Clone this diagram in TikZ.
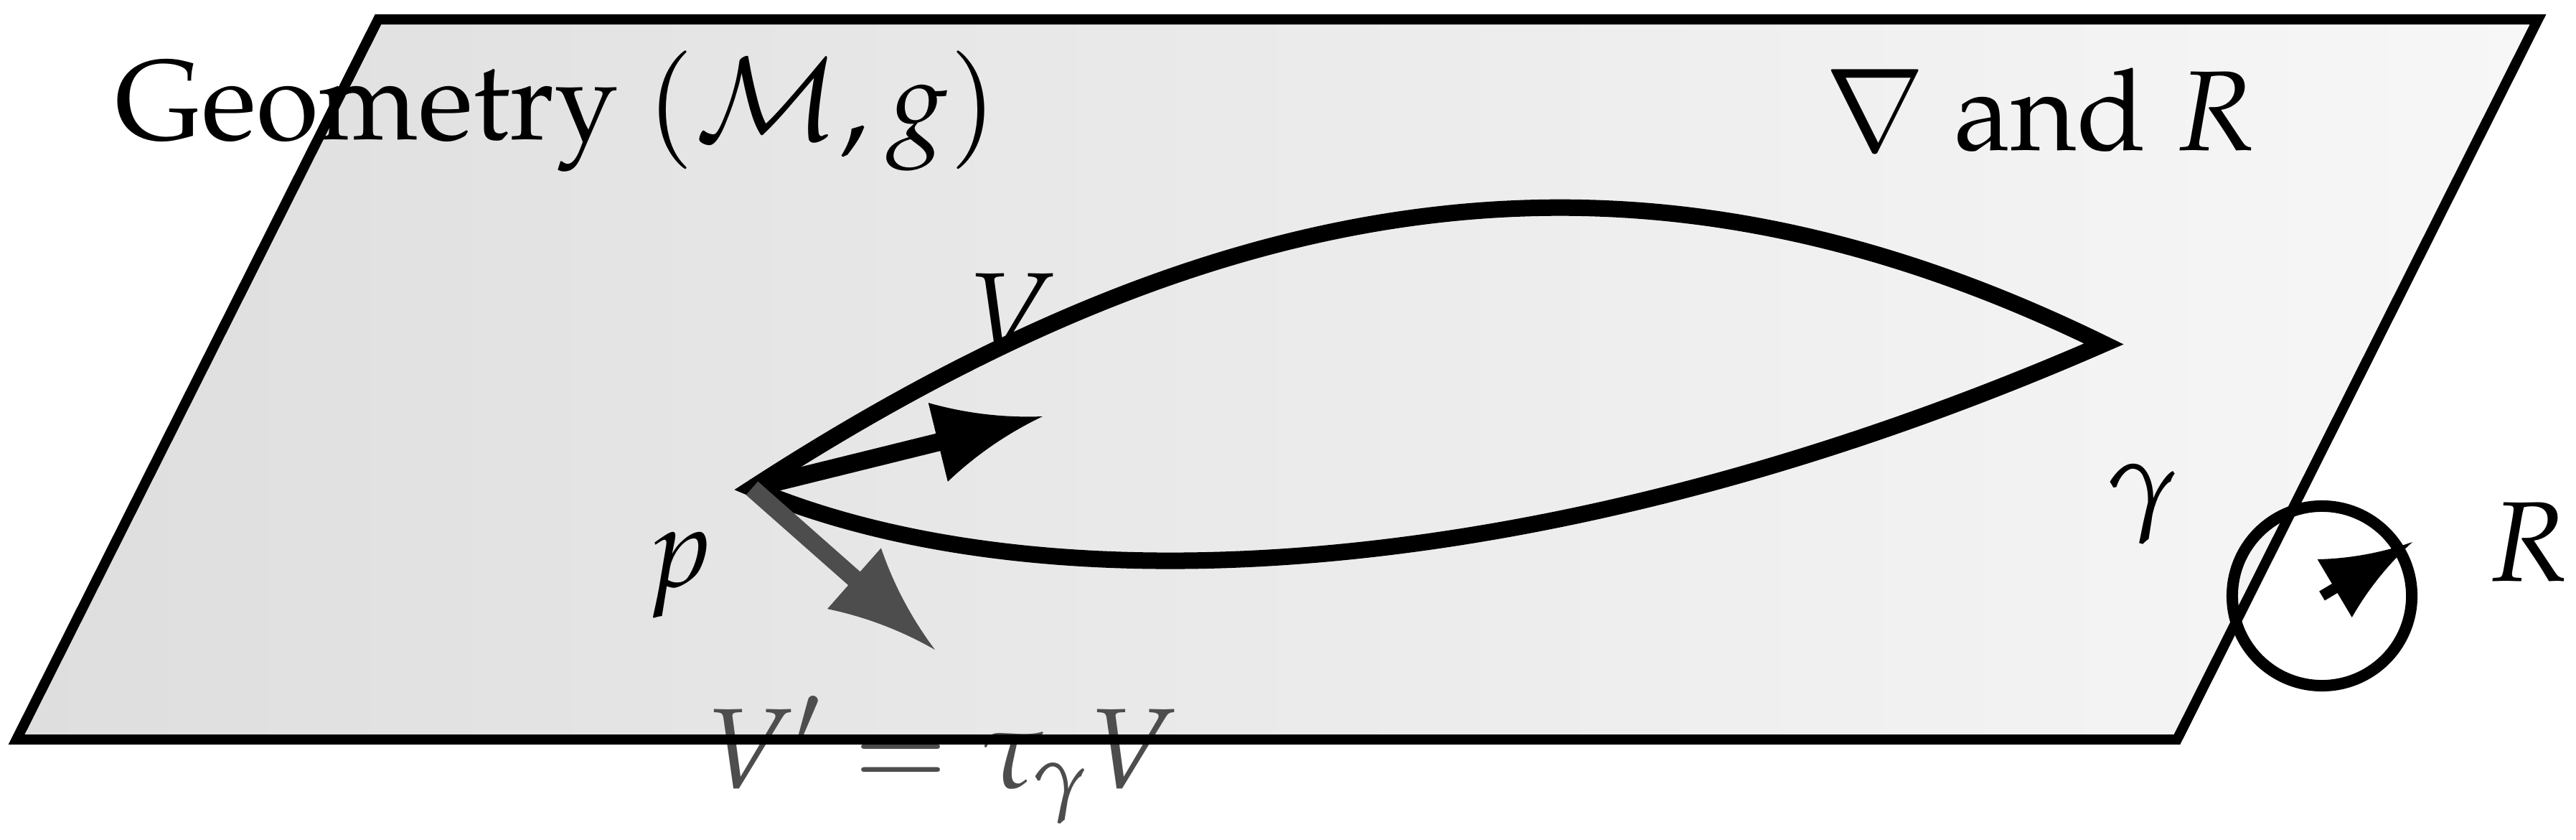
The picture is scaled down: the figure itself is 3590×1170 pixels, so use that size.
\documentclass[tikz,border=0pt]{standalone}
\usepackage[T1]{fontenc}
\usepackage{mathpazo}
\usetikzlibrary{arrows.meta}

\pgfdeclarearrow{
  name = Curvy,
  parameters = {\the\pgfarrowlength,\the\pgfarrowwidth},
  setup code = {
    \pgfarrowssettipend{0pt}
    \pgfarrowssetbackend{-\pgfarrowlength}
    \pgfarrowssetlineend{-0.6\pgfarrowlength}
    \pgfarrowsupperhullpoint{0pt}{0pt}
    \pgfarrowsupperhullpoint{-\pgfarrowlength}{0.5\pgfarrowwidth}
    \pgfarrowssavethe\pgfarrowlength
    \pgfarrowssavethe\pgfarrowwidth
  },
  drawing code = {
    \pgfpathmoveto{\pgfpointorigin}
    \pgfpathcurveto{\pgfpoint{-0.33\pgfarrowlength}{0.09\pgfarrowwidth}}{\pgfpoint{-0.67\pgfarrowlength}{0.25\pgfarrowwidth}}{\pgfpoint{-\pgfarrowlength}{0.5\pgfarrowwidth}}
    \pgfpathlineto{\pgfpoint{-\pgfarrowlength}{-0.5\pgfarrowwidth}}
    \pgfpathcurveto{\pgfpoint{-0.67\pgfarrowlength}{-0.25\pgfarrowwidth}}{\pgfpoint{-0.33\pgfarrowlength}{-0.09\pgfarrowwidth}}{\pgfpointorigin}
    \pgfpathclose
    \pgfusepathqfill
  },
  defaults = {length=10pt, width=8pt}
}

\definecolor{vgray}{HTML}{4D4D4D}
\definecolor{planeL}{HTML}{DEDEDE}
\definecolor{planeR}{HTML}{F7F7F7}

\tikzset{
  lab/.style={inner sep=0pt, font=\fontsize{45}{54}\selectfont},
  planeedge/.style={draw=black, line width=0.14cm, line join=miter},
  lens/.style={draw=black, line width=0.23cm, line join=miter, miter limit=10},
  vec/.style={line width=0.25cm, line cap=butt, -{Curvy[length=1.5cm,width=1.13cm]}},
  ring/.style={circle, draw=black, line width=0.16cm, minimum size=2.5cm, inner sep=0pt}
}

\begin{document}
\begin{tikzpicture}[x=0.01cm, y=-0.01cm]
\useasboundingbox (0,0) rectangle (3590,1170);

% plane
\coordinate (A) at (23,1030);
\coordinate (B) at (3034,1030);
\coordinate (C) at (3537,27);
\coordinate (D) at (527,27);
\shade[left color=planeL, right color=planeR] (A) -- (B) -- (C) -- (D) -- cycle;

% labels
\node[lab, anchor=base west] (geo) at (160,195) {Geometry $(\mathcal{M},g)$};
\node[lab, anchor=base west] (nab) at (2542,210) {$\nabla$ and $R$};
\node[lab, anchor=base] (vl) at (1410,490) {$V$};
\node[lab, anchor=base] (pl) at (947,817) {$p$};
\node[lab, anchor=base west, text=vgray] (vpl) at (982,1097) {$V' = \tau_\gamma V$};
\node[lab, anchor=base] (gl) at (2986,722) {$\gamma$};
\node[lab, anchor=base west] (rl) at (3467,809) {$R$};

\draw[planeedge] (A) -- (B) -- (C) -- (D) -- cycle;

% lens (loop gamma)
\coordinate (p) at (1048,680);
\coordinate (t) at (2932,479);
\draw[lens] (p) .. controls (1750,225) and (2320,180) .. (t)
            .. controls (2150,820) and (1450,850) .. cycle;

% vectors
\coordinate (vtip) at (1453,580);
\coordinate (vptip) at (1303,905);
\draw[vec, draw=black] (p) -- (vtip);
\draw[vec, draw=vgray, fill=vgray] (p) -- (vptip);

% curvature ring
\node[ring] (rc) at (3236,830) {};
\coordinate (rtip) at (3362,755);
\draw[line width=0.15cm, line cap=butt, -{Curvy[length=1.26cm,width=0.94cm]}] (rc.center) -- (rtip);
\end{tikzpicture}
\end{document}
